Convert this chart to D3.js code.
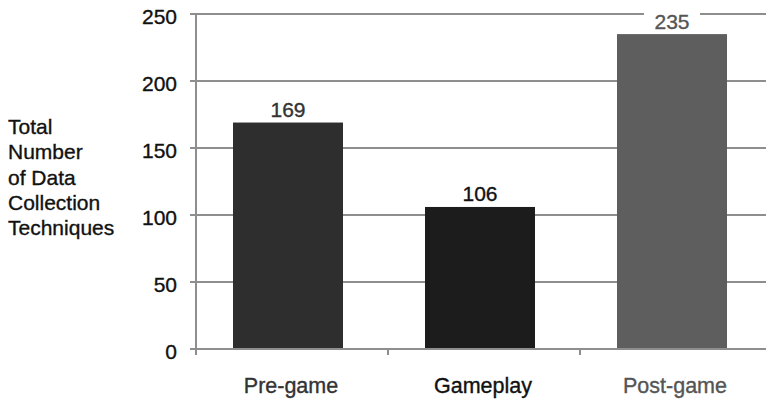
<!DOCTYPE html>
<html>
<head>
<meta charset="utf-8">
<script src="https://cdn.jsdelivr.net/npm/d3@7"></script>
<style>
  body { margin: 0; background: #fff; }
  text { font-family: "Liberation Sans", Arial, sans-serif; stroke-width: 0.35px; }
</style>
</head>
<body>
<div id="chart"></div>
<script>
var categories = ["Pre-game", "Gameplay", "Post-game"];
var values = [169, 106, 235];
var barColors = ["#2e2e2e", "#1c1c1c", "#5e5e5e"];
var labelColors = ["#333333", "#111111", "#555555"];
var yTicks = [0, 50, 100, 150, 200, 250];
var titleLines = ["Total", "Number", "of Data", "Collection", "Techniques"];

var width = 766, height = 403;

var svg = d3.select("#chart")
    .append("svg")
    .attr("width", width)
    .attr("height", height);

var x = d3.scaleBand()
    .domain(categories)
    .range([196, 772]);

var y = d3.scaleLinear()
    .domain([0, 250])
    .range([349, 14]);

var barWidth = 110;
var barShift = 37;

// gridlines
svg.append("g")
    .selectAll("line")
    .data(yTicks.filter(function (d) { return d > 0; }))
    .enter()
    .append("line")
    .attr("x1", 190)
    .attr("x2", width)
    .attr("y1", function (d) { return y(d); })
    .attr("y2", function (d) { return y(d); })
    .attr("stroke", "#8e8e8e")
    .attr("stroke-width", 2);

// y axis line
svg.append("line")
    .attr("x1", 196).attr("x2", 196)
    .attr("y1", y(250)).attr("y2", y(0))
    .attr("stroke", "#8e8e8e")
    .attr("stroke-width", 2);

svg.append("g")
    .selectAll("text")
    .data(yTicks)
    .enter()
    .append("text")
    .attr("x", 177)
    .attr("y", function (d) { return y(d) + 9.5; })
    .attr("text-anchor", "end")
    .style("font-size", "21px")
    .style("fill", "#111")
    .style("stroke", "#111")
    .text(function (d) { return d; });

// bars
svg.append("g")
    .selectAll("rect")
    .data(values)
    .enter()
    .append("rect")
    .attr("x", function (d, i) { return x(categories[i]) + barShift; })
    .attr("y", function (d) { return y(d); })
    .attr("width", barWidth)
    .attr("height", function (d) { return y(0) - y(d); })
    .style("fill", function (d, i) { return barColors[i]; });

// x axis line + ticks
svg.append("line")
    .attr("x1", 190).attr("x2", width)
    .attr("y1", y(0)).attr("y2", y(0))
    .attr("stroke", "#8e8e8e")
    .attr("stroke-width", 2);

svg.append("g")
    .selectAll("line")
    .data(categories)
    .enter()
    .append("line")
    .attr("x1", function (d) { return x(d); })
    .attr("x2", function (d) { return x(d); })
    .attr("y1", y(0))
    .attr("y2", y(0) + 6)
    .attr("stroke", "#8e8e8e")
    .attr("stroke-width", 2);

// value labels
var vl = svg.append("g")
    .selectAll("g")
    .data(values)
    .enter()
    .append("g");

vl.append("rect")
    .attr("x", function (d, i) { return x(categories[i]) + barShift + barWidth / 2 - 28; })
    .attr("y", function (d) { return y(d) - 30; })
    .attr("width", 56)
    .attr("height", 26)
    .style("fill", "#fff");

vl.append("text")
    .attr("x", function (d, i) { return x(categories[i]) + barShift + barWidth / 2; })
    .attr("y", function (d) { return y(d) - 5.5; })
    .attr("text-anchor", "middle")
    .style("font-size", "21px")
    .style("fill", function (d, i) { return labelColors[i]; })
    .style("stroke", function (d, i) { return labelColors[i]; })
    .text(function (d) { return d; });

// category labels
svg.append("g")
    .selectAll("text")
    .data(categories)
    .enter()
    .append("text")
    .attr("x", function (d) { return x(d) + barShift + barWidth / 2 + 3; })
    .attr("y", 393)
    .attr("text-anchor", "middle")
    .style("font-size", "21.5px")
    .style("fill", function (d, i) { return labelColors[i]; })
    .style("stroke", function (d, i) { return labelColors[i]; })
    .text(function (d) { return d; });

// y title
svg.append("g")
    .selectAll("text")
    .data(titleLines)
    .enter()
    .append("text")
    .attr("x", 8)
    .attr("y", function (d, i) { return 134 + i * 25.3; })
    .style("font-size", "21px")
    .style("fill", "#111")
    .style("stroke", "#111")
    .text(function (d) { return d; });
</script>
</body>
</html>
